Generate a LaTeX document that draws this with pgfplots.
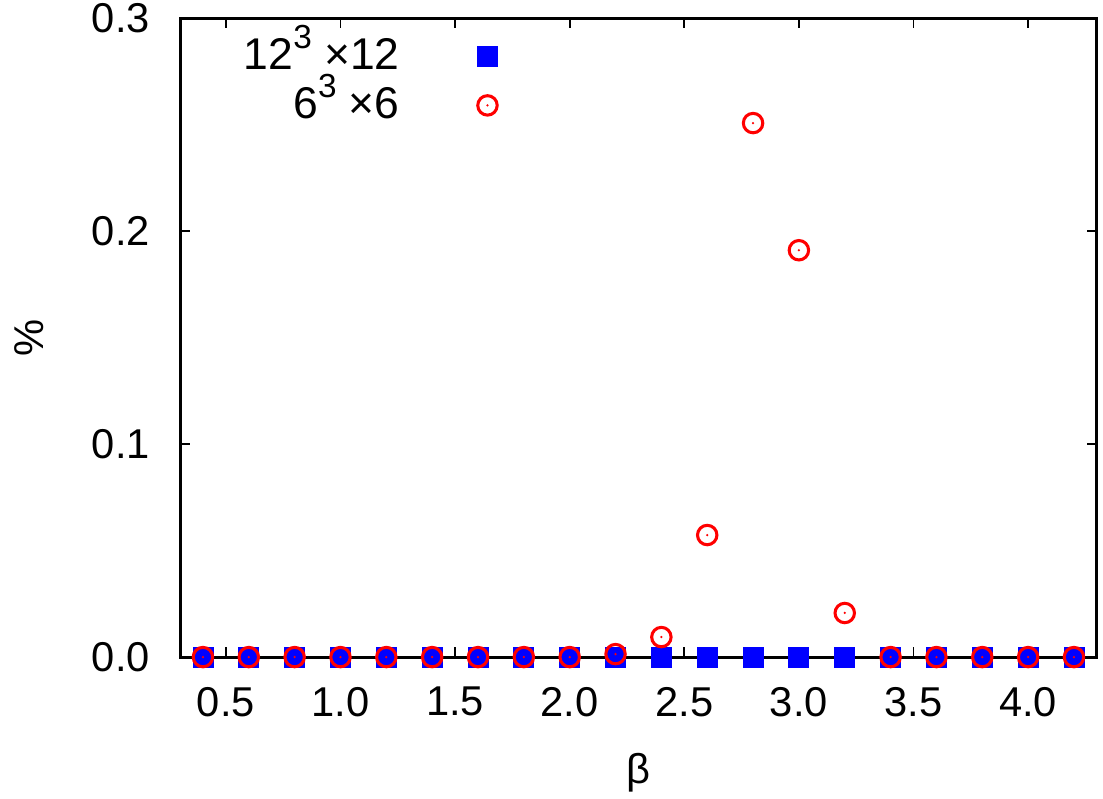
\documentclass[border=0pt]{standalone}
\usepackage{fontspec}
\setmainfont{Liberation Sans}
\usepackage{pgfplots}
\pgfplotsset{compat=1.18}
\pgfdeclareplotmark{odot}{%
  \pgfpathcircle{\pgfpointorigin}{\pgfplotmarksize}\pgfusepathqstroke
  \pgfpathcircle{\pgfpointorigin}{0.45pt}\pgfusepathqfill}
\newcommand{\sq}[1]{\smash{\raisebox{0.48em}{\fontsize{12}{12}\selectfont #1}}}
\begin{document}
\begin{tikzpicture}
\begin{axis}[
  scale only axis, width=330pt, height=230pt,
  xmin=0.3, xmax=4.3, ymin=0, ymax=0.3,
  xtick={0.5,1.0,...,4.0}, ytick={0,0.1,0.2,0.3},
  tick align=inside, major tick length=3.6pt,
  tick style={line width=0.6pt, black},
  axis line style={line width=1.1pt},
  every axis/.append style={line width=1.1pt},
  font=\fontsize{15}{18}\selectfont,
  /pgf/number format/.cd, fixed, fixed zerofill, precision=1, assume math mode=true,
  /pgfplots/.cd,
  xticklabel style={yshift=-7pt},
  yticklabel style={xshift=-7pt},
  xlabel={β}, ylabel={\%},
  xlabel style={yshift=-6pt},
  ylabel style={yshift=10pt},
  clip=false,
  legend cell align=right,
  legend plot pos=right,
  legend style={draw=none, fill=none, at={(rel axis cs:0.357,0.9875)}, anchor=north east,
    font=\fontsize{16}{18}\selectfont, row sep=1pt,
    /tikz/every odd column/.append style={column sep=26pt}},
]
\coordinate (sw) at (rel axis cs:0,0);
\coordinate (ne) at (rel axis cs:1,1);
\addplot[only marks, mark=square*, mark size=3.6pt, color=blue, mark options={line width=0.3pt}] coordinates {
(0.4,0) (0.6,0) (0.8,0) (1.0,0) (1.2,0) (1.4,0) (1.6,0) (1.8,0) (2.0,0) (2.2,0)
(2.4,0) (2.6,0) (2.8,0) (3.0,0) (3.2,0) (3.4,0) (3.6,0) (3.8,0) (4.0,0) (4.2,0)};
\addlegendentry{12\sq{3} ×12}
\addplot[only marks, mark=odot, mark size=3.5pt, color=red, mark options={line width=1.1pt, fill=red}] coordinates {
(0.4,0) (0.6,0) (0.8,0) (1.0,0) (1.2,0) (1.4,0) (1.6,0) (1.8,0) (2.0,0) (2.2,0.0014)
(2.4,0.0094) (2.6,0.0573) (2.8,0.2507) (3.0,0.191) (3.2,0.0207) (3.4,0) (3.6,0) (3.8,0) (4.0,0) (4.2,0)};
\addlegendentry{6\sq{3} ×6}
\end{axis}
\pgfresetboundingbox
\path ([xshift=-64.8pt,yshift=-50.75pt]sw) rectangle ([xshift=2.2pt,yshift=6.5pt]ne);
\end{tikzpicture}
\end{document}
